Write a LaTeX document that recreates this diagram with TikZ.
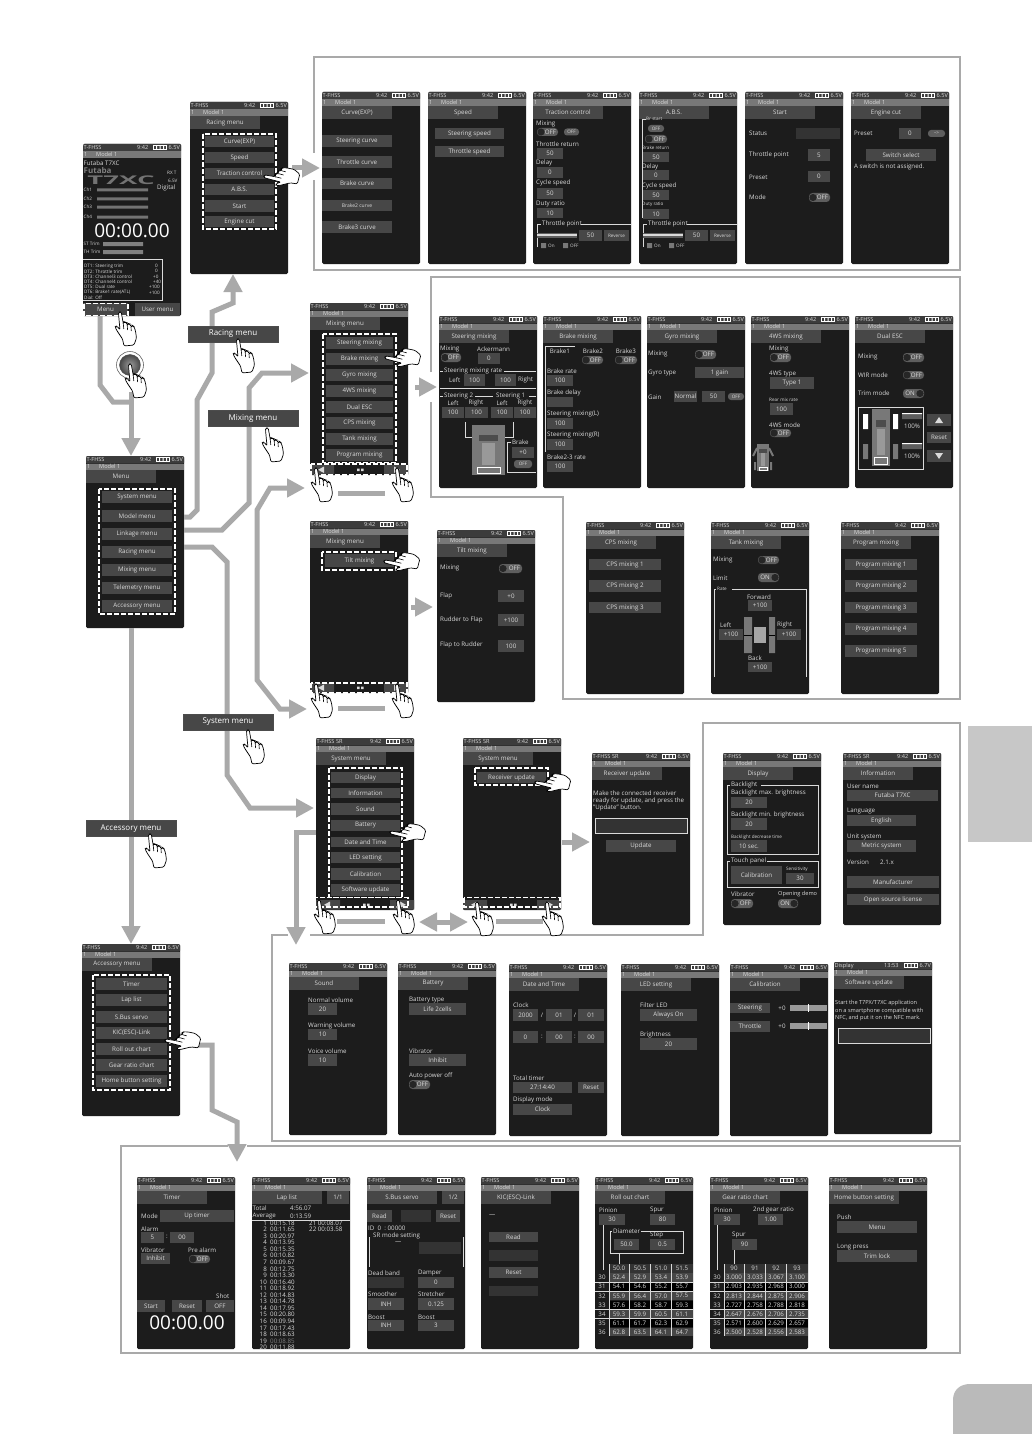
\documentclass[tikz,border=0pt]{standalone}
\usepackage{fontspec}
\setmainfont{Open Sans}
\usetikzlibrary{arrows.meta}
\definecolor{scrbg}{HTML}{1C1C1C}
\definecolor{stat}{HTML}{3C3C3C}
\definecolor{modl}{HTML}{787878}
\definecolor{btnc}{HTML}{474747}
\definecolor{dimc}{HTML}{333333}
\definecolor{txtc}{HTML}{DADADA}
\definecolor{flowc}{HTML}{A9A9A9}
\definecolor{pillc}{HTML}{5E5E5E}
\newcounter{nid}
\tikzset{
 scrbody/.style={fill=scrbg,draw=none,rounded corners=1.5pt,minimum width=98pt,minimum height=172pt,inner sep=0pt,outer sep=0pt,anchor=north west},
 txt/.style={text=txtc,inner sep=0pt,font=\fontsize{6.2}{7}\selectfont},
 smalltxt/.style={text=txtc,inner sep=0pt,font=\fontsize{4.6}{5}\selectfont},
 sttxt/.style={text=txtc,inner sep=0pt,font=\fontsize{5.6}{6}\selectfont},
 frameline/.style={draw=flowc,line width=2.5pt,line cap=butt},
 flow/.style={draw=flowc,line width=5pt,line join=miter,-{Triangle[width=18pt,length=18pt]}},
 bar/.style={draw=flowc,line width=5pt},
 dflow/.style={draw=flowc,line width=5pt,{Triangle[width=18pt,length=18pt]}-{Triangle[width=18pt,length=18pt]}},
 dash box/.style={draw=white,line width=1.5pt,dash pattern=on 5pt off 2pt},
 wl/.style={draw=txtc,line width=0.6pt},
 lab/.style={fill=btnc,draw=black!70,line width=0.4pt,text=white,minimum width=90pt,minimum height=16pt,inner sep=0pt,font=\fontsize{8}{9}\selectfont},
 handst/.style={fill=white,draw=black,line width=0.7pt,rounded corners=1.3pt},
}
\newcommand\tx[3]{\stepcounter{nid}\node[txt,anchor=west](n\arabic{nid}) at (#1,#2) {#3};}
\newcommand\tc[3]{\stepcounter{nid}\node[txt](n\arabic{nid}) at (#1,#2) {#3};}
\newcommand\ts[3]{\stepcounter{nid}\node[smalltxt,anchor=west](n\arabic{nid}) at (#1,#2) {#3};}
\newcommand\tst[3]{\stepcounter{nid}\node[sttxt,anchor=west](n\arabic{nid}) at (#1,#2) {#3};}
\newcommand\bt[5]{\stepcounter{nid}\path[fill=btnc] (#1,#2) rectangle node[txt](n\arabic{nid}){#5} (#3,#4);}
\newcommand\bd[4]{\fill[dimc] (#1,#2) rectangle (#3,#4);}
\newcommand\pill[5]{\stepcounter{nid}\path[fill=pillc,rounded corners=3pt] (#1,#2) rectangle node[smalltxt](n\arabic{nid}){#5} (#3,#4);}
\newcommand\togoff[4]{\fill[pillc,rounded corners=3.5pt] (#1,#2) rectangle (#3,#4);
 \fill[black!85] (#1+4,{(#2+#4)/2}) circle (3.6pt);
 \tc{#3-7.5}{{(#2+#4)/2}}{OFF}}
\newcommand\togon[4]{\fill[pillc,rounded corners=3.5pt] (#1,#2) rectangle (#3,#4);
 \fill[black!85] (#3-4,{(#2+#4)/2}) circle (3.6pt);
 \tc{#1+7}{{(#2+#4)/2}}{ON}}
\newcommand\batt{\fill[white] (70,1.2) rectangle (84,6.2);
 \fill[stat] (71.2,2.2) rectangle (82.8,5.2);
 \fill[white] (73,2.2) rectangle (74,5.2) (76.5,2.2) rectangle (77.5,5.2) (80,2.2) rectangle (81,5.2);}
\newcommand\scrbare[4]{\begin{scope}[shift={(#3,#4)}]
 \node[scrbody] (#2) at (0,0) {};
 \fill[stat,rounded corners=1pt] (0,0) rectangle (98,7.5);
 \fill[modl] (0,7.5) rectangle (98,14);
 \tst{0.5}{3.8}{#1}
 \tst{54}{3.8}{9:42}
 \batt
 \tst{85.5}{3.8}{6.5V}
 \tst{1}{10.8}{1}
 \tst{13}{10.8}{Model 1}
}
\newcommand\scr[5][T-FHSS]{\scrbare{#1}{#2}{#3}{#4}
 \bt{0}{14}{70}{27}{#5}}
\newcommand\escr{\end{scope}}
\newcommand\nav{\fill[btnc] (0,162) rectangle (24,171.5) (74,162) rectangle (98,171.5);
 \fill[txtc] (14,163.5) -- (14,170) -- (8,166.8) -- cycle (84,163.5) -- (84,170) -- (90,166.8) -- cycle;
 \fill[txtc] (47,165.5) rectangle (49.5,168) (51,165.5) rectangle (53.5,168);}
\newcommand\hand[3]{\begin{scope}[shift={(#1,#2)},rotate=#3]
 \path[handst] (-1.2,0) -- (1.2,0) -- (3.2,11) -- (5,10) -- (6.3,10.5) -- (7.2,13) -- (8.5,11.5) -- (10,12) -- (11,15) -- (12.5,13.5) -- (14,14.5) -- (15.5,19) -- (16.5,26) -- (14,33) -- (4,34) -- (2.5,27) -- (-3.5,18) -- (-5,14.5) -- (-3,14) -- (0,18) -- (-1.5,2) -- cycle;
 \draw[black,line width=0.6pt] (3.2,11) -- (3.8,17) (7.2,13) -- (7.6,18) (11,15) -- (11.3,19);
 \end{scope}}
\newcommand\slid[1]{\draw[wl] (4,#1) -- (4,132) -- (8,132); \tx{9}{132}{Throttle point} \draw[wl] (48,132) -- (98,132);
 \fill[pillc] (4,141) rectangle (44,146); \fill[white!85!black] (4,142) rectangle (44,143.5);
 \bt{46}{138}{69}{149}{50} \bt{71}{138}{96}{149}{\fontsize{4.6}{5}\selectfont Reverse}
 \fill[modl] (8,151) rectangle (13,156) (30,151) rectangle (35,156);
 \ts{15}{153.5}{On} \ts{37}{153.5}{OFF}}
\newcommand\car[4]{\fill[modl] (#1,#2) rectangle (#3,#4);
 \fill[black!70] ({#1+(#3-#1)*0.2},{#2+(#4-#2)*0.2}) rectangle ({#1+(#3-#1)*0.8},{#2+(#4-#2)*0.32});
 \fill[black!40] ({#1+(#3-#1)*0.3},{#2+(#4-#2)*0.35}) rectangle ({#1+(#3-#1)*0.7},{#2+(#4-#2)*0.8});
 \draw[white,line width=0.5pt] ({#1+(#3-#1)*0.15},{#2+(#4-#2)*0.85}) rectangle ({#1+(#3-#1)*0.85},{#2+(#4-#2)*0.97});}
\newcommand\trow[7]{\fill[#2] (14,#1) rectangle (97.5,#1+8.6);
 \tc{7}{#1+4.3}{#3} \tc{24}{#1+4.3}{#4} \tc{45}{#1+4.3}{#5} \tc{66}{#1+4.3}{#6} \tc{87}{#1+4.3}{#7}}
\begin{document}
\begin{tikzpicture}[x=1pt,y=-1pt]
\useasboundingbox (0,0) rectangle (1032,1434);
\fill[white] (0,0) rectangle (1032,1434);
% page tabs
\fill[black!22] (968,726) rectangle (1032,842);
\fill[black!27] (1032,1434) -- (953,1434) -- (953,1400) .. controls (953,1390) and (960,1384) .. (970,1384) -- (1032,1384) -- cycle;
% frames
\draw[frameline] (314,153) -- (314,57) -- (960,57) -- (960,270) -- (314,270) -- (314,180);
\draw[frameline] (431,372) -- (431,277) -- (960,277) -- (960,699) -- (563,699) -- (563,497) -- (431,497) -- (431,402);
\draw[frameline] (288,935) -- (272,935) -- (272,1141) -- (960,1141) -- (960,723) -- (703,723) -- (703,935) -- (310,935);
\draw[frameline] (228,1146) -- (121,1146) -- (121,1353) -- (960,1353) -- (960,1146) -- (247,1146);
% screens
\scrbare{T-FHSS}{home}{83}{144}
 \tx{0.5}{19}{Futaba T7XC}
 \stepcounter{nid}\node[text=black!50,inner sep=0pt,anchor=west,font=\bfseries\fontsize{8}{9}\selectfont](n\arabic{nid}) at (0.5,27) {Futaba};
 \stepcounter{nid}\node[text=black!55,inner sep=0pt,font=\bfseries\fontsize{12}{13}\selectfont,xscale=2.3](n\arabic{nid}) at (38,36) {T7XC};
 \ts{84}{29}{RX T} \ts{85}{37}{6.5V} \tx{74}{44}{Digital}
 \ts{0.5}{46}{Ch1} \ts{0.5}{55}{Ch2} \ts{0.5}{63}{Ch3} \ts{0.5}{73}{Ch4}
 \fill[black!55] (14,44.5) rectangle (65,47.5) (14,53.5) rectangle (65,56.5) (14,61.5) rectangle (65,64.5) (14,71.5) rectangle (65,74.5);
 \stepcounter{nid}\node[text=white,inner sep=0pt,font=\fontsize{19}{20}\selectfont](n\arabic{nid}) at (49,87) {00:00.00};
 \ts{0.5}{100}{ST Trim} \ts{0.5}{108}{TH Trim}
 \fill[black!50] (20,98) rectangle (60,102) (20,106) rectangle (60,110);
 \draw[wl] (0,115) -- (79,115) -- (79,156.5) -- (0,156.5);
 \ts{1}{122}{DT1: Steering trim} \ts{1}{127.3}{DT2: Throttle trim} \ts{1}{132.6}{DT3: Channel3 control} \ts{1}{137.9}{DT4: Channel4 control} \ts{1}{143.2}{DT5: Dual rate} \ts{1}{148.5}{DT6: Brake1 rate(ATL)} \ts{1}{153.5}{Dial: Off}
 \ts{72}{122}{0} \ts{72}{127.3}{0} \ts{70}{132.6}{+0} \ts{70}{137.9}{+40} \ts{66}{143.2}{+100} \ts{66}{148.5}{+100}
 \bt{0}{159}{45}{172}{Menu} \bt{52}{159}{97}{172}{User menu}
 \draw[dash box] (1,159.5) rectangle (45,171.5);
\escr
\scr{racing}{190}{102}{Racing menu}
 \bt{15}{34}{84}{45}{Curve(EXP)} \bt{15}{50}{84}{61}{Speed} \bt{15}{66}{84}{77}{Traction control} \bt{15}{82}{84}{93}{A.B.S.} \bt{15}{98}{84}{110}{Start} \bt{15}{114}{84}{125}{Engine cut}
 \draw[dash box] (13,32) rectangle (86,127);
\escr
\scr{curve}{322}{92}{Curve(EXP)}
 \bt{0}{43}{70}{55}{Steering curve} \bt{0}{64}{70}{76}{Throttle curve} \bt{0}{86}{70}{97}{Brake curve} \bt{0}{108}{70}{119}{\fontsize{5}{6}\selectfont Brake2 curve} \bt{0}{129}{70}{141}{Brake3 curve}
\escr
\scr{speed}{428}{92}{Speed}
 \bt{7}{36}{76}{47}{Steering speed} \bt{7}{54}{76}{65}{Throttle speed}
\escr
\scr{traction}{533}{92}{Traction control}
 \tx{3}{32}{Mixing} \togoff{4}{36}{25}{44} \pill{31}{36.5}{46}{43.5}{OFF}
 \tx{3}{52}{Throttle return} \bt{4}{56}{30}{67}{50}
 \tx{3}{71}{Delay} \bt{4}{75}{30}{86}{0}
 \tx{3}{91}{Cycle speed} \bt{4}{96}{30}{107}{50}
 \tx{3}{112}{Duty ratio} \bt{4}{116}{30}{126}{10}
 \slid{155}
\escr
\scr{abs}{639}{92}{A.B.S.}
 \draw[wl] (7,27) -- (3,27) -- (3,126); \ts{7}{27}{Br start}
 \pill{9}{33}{25}{40}{OFF} \togoff{6}{43}{28}{51}
 \ts{3}{56}{Brake return} \bt{4}{60}{30}{70}{50}
 \tx{3}{75}{Delay} \bt{4}{78}{30}{88}{0}
 \tx{3}{94}{Cycle speed} \bt{4}{98}{30}{108}{50}
 \ts{3}{112}{Duty ratio} \bt{4}{117}{30}{127}{10}
 \slid{155}
\escr
\scr{start}{745}{92}{Start}
 \tx{4}{41}{Status} \bd{51}{36}{95}{47}
 \tx{4}{63}{Throttle point} \bt{63}{57}{85}{69}{5}
 \tx{4}{85}{Preset} \bt{63}{79}{85}{90}{0}
 \tx{4}{105}{Mode} \togoff{64}{101}{85}{110}
\escr
\scr{engine}{851}{92}{Engine cut}
 \tx{3}{41}{Preset} \bt{48}{36}{70}{47}{0} \pill{77}{38}{94}{45}{-->}
 \bt{15}{57}{85}{69}{Switch select}
 \tx{3}{75}{A switch is not assigned.}
\escr
% mixing menu
\scr{mixing}{310}{303}{Mixing menu}
 \bt{16}{34}{83}{46}{Steering mixing} \bt{16}{50}{83}{62}{Brake mixing} \bt{16}{66}{83}{78}{Gyro mixing} \bt{16}{82}{83}{94}{4WS mixing} \bt{16}{98}{83}{110}{Dual ESC} \bt{16}{114}{83}{126}{CPS mixing} \bt{16}{130}{83}{142}{Tank mixing} \bt{16}{146}{83}{158}{Program mixing}
 \draw[dash box] (13,31) rectangle (86,159.5);
 \nav
 \draw[dash box] (1,161) rectangle (97,172);
\escr
\scr{steering}{439}{316}{Steering mixing}
 \tx{1}{33}{Mixing} \togoff{2}{37}{22}{46} \tx{38}{33}{Ackermann} \bt{39}{37}{61}{48}{0}
 \draw[wl] (1,55) -- (4,55) (65,55) -- (97,55); \tx{5}{55}{Steering mixing rate}
 \tx{10}{64}{Left} \bt{25}{58}{46}{70}{100} \bt{56}{58}{77}{70}{100} \tx{79}{64}{Right}
 \draw[wl] (1,72) -- (97,72);
 \draw[wl] (1,80) -- (4,80) (36,80) -- (54,80) (90,80) -- (97,80); \tx{5}{80}{Steering 2} \tx{57}{80}{Steering 1}
 \tc{14}{87}{Left} \tc{37}{87}{Right} \tc{63}{87}{Left} \tc{86}{87}{Right}
 \bt{3}{91}{25}{102}{100} \bt{26}{91}{49}{102}{100} \bt{52}{91}{74}{102}{100} \bt{75}{91}{97}{102}{100}
 \car{33}{109}{66}{159}
 \draw[wl] (26,106) -- (26,121) -- (33,121) (74,106) -- (74,121) -- (66,121);
 \draw[wl] (72,126) -- (68,126) -- (68,156) -- (97,156); \tx{73}{126}{Brake} \bt{73}{131}{95}{142}{+0} \pill{75}{144}{93}{152}{OFF}
\escr
\scr{brakemix}{543}{316}{Brake mixing}
 \draw[wl] (32,30) -- (2,30) -- (2,136);
 \tc{17}{35}{Brake1} \tc{50}{35}{Brake2} \tc{83}{35}{Brake3} \togoff{39}{40}{60}{48} \togoff{72}{40}{94}{48}
 \tx{4}{55}{Brake rate} \bt{4}{59}{30}{70}{100}
 \tx{4}{77}{Brake delay} \bt{4}{81}{30}{91}{}
 \tx{4}{98}{Steering mixing(L)} \bt{4}{102}{30}{113}{100}
 \tx{4}{119}{Steering mixing(R)} \bt{4}{123}{30}{134}{100}
 \tx{4}{141}{Brake2-3 rate} \bt{4}{145}{30}{156}{100}
\escr
\scr{gyro}{647}{316}{Gyro mixing}
 \tx{1}{38}{Mixing} \togoff{48}{34}{69}{43}
 \tx{1}{57}{Gyro type} \bt{48}{51}{97}{62}{1 gain}
 \tx{1}{81}{Gain} \bt{27}{75}{50}{86}{Normal} \bt{55}{75}{78}{86}{50} \pill{81}{77}{97}{84}{OFF}
\escr
\scr{fourws}{751}{316}{4WS mixing}
 \tx{18}{33}{Mixing} \togoff{19}{37}{40}{46}
 \tx{18}{58}{4WS type} \bt{19}{61}{63}{73}{Type 1}
 \ts{18}{84}{Rear mix rate} \bt{19}{87}{42}{99}{100}
 \tx{18}{109}{4WS mode} \togoff{19}{113}{40}{121}
 \car{6}{128}{18}{155}
 \draw[modl,line width=2pt] (2,140) -- (6,132) (18,132) -- (22,140) (4,146) -- (4,154) (20,146) -- (20,154);
\escr
\scr{dualesc}{855}{316}{Dual ESC}
 \tx{3}{41}{Mixing} \togoff{48}{37}{69}{46}
 \tx{3}{59}{WIR mode} \togoff{48}{55}{69}{63}
 \tx{3}{77}{Trim mode} \togon{48}{73}{69}{82}
 \draw[wl] (3,91) rectangle (68,153);
 \fill[white] (8,98) rectangle (13,113) (38,98) rectangle (43,113);
 \fill[modl] (8,128) rectangle (13,143) (38,128) rectangle (43,143);
 \car{17}{93}{35}{150}
 \fill[pillc] (47,98) rectangle (67,103) (47,128) rectangle (67,133);
 \fill[white] (47,97) rectangle (67,98) (47,127) rectangle (67,128);
 \tx{49}{110}{100\%} \tx{49}{140}{100\%}
 \bt{72}{98}{96}{110}{} \fill[txtc] (84,101) -- (80,107) -- (88,107) -- cycle;
 \bt{72}{116}{96}{127}{Reset}
 \bt{72}{134}{96}{146}{} \fill[txtc] (84,143) -- (80,137) -- (88,137) -- cycle;
\escr
\scr{cps}{586}{522}{CPS mixing}
 \bt{3}{37}{75}{48}{CPS mixing 1} \bt{3}{58}{75}{70}{CPS mixing 2} \bt{3}{80}{75}{91}{CPS mixing 3}
\escr
\scr{tank}{711}{522}{Tank mixing}
 \tx{2}{38}{Mixing} \togoff{47}{34}{68}{42}
 \tx{2}{56}{Limit} \togon{47}{51}{68}{60}
 \draw[wl] (3,155) -- (3,67) -- (5,67) (21,67) -- (95,67) -- (95,155); \ts{6}{67}{Rate}
 \tc{48}{75}{Forward} \bt{37}{78}{61}{89}{+100}
 \tx{9}{103}{Left} \bt{8}{107}{32}{118}{+100}
 \tx{66}{103}{Right} \bt{66}{107}{90}{118}{+100}
 \tc{44}{136}{Back} \bt{37}{140}{61}{150}{+100}
 \fill[modl] (33,95) rectangle (41,131) (58,95) rectangle (64,131);
 \draw[black,line width=0.6pt] (33,113) -- (41,113) (58,113) -- (64,113);
 \fill[black!35] (43,105) rectangle (55,121);
\escr
\scr{program}{841}{522}{Program mixing}
 \bt{4}{37}{76}{48}{Program mixing 1} \bt{4}{58}{76}{70}{Program mixing 2} \bt{4}{80}{76}{91}{Program mixing 3} \bt{4}{101}{76}{113}{Program mixing 4} \bt{4}{123}{76}{135}{Program mixing 5}
\escr
\scr{menu}{86}{456}{Menu}
 \bt{16}{35}{86}{47}{System menu} \bt{16}{54}{86}{66}{Model menu} \bt{16}{72}{86}{84}{Linkage menu} \bt{16}{90}{86}{102}{Racing menu} \bt{16}{108}{86}{120}{Mixing menu} \bt{16}{126}{86}{138}{Telemetry menu} \bt{16}{144}{86}{156}{Accessory menu}
 \draw[dash box] (13,33) rectangle (89,158);
\escr
\scr{tilt}{310}{521}{Mixing menu}
 \bt{15}{33}{84}{46}{Tilt mixing}
 \draw[dash box] (12,31) rectangle (86,49);
 \nav
 \draw[dash box] (1,162) rectangle (97,172);
\escr
\scr{tiltmix}{437}{530}{Tilt mixing}
 \tx{3}{38}{Mixing} \togoff{62}{34}{85}{43}
 \tx{3}{66}{Flap} \bt{61}{60}{87}{72}{+0}
 \tx{3}{90}{Rudder to Flap} \bt{61}{84}{87}{96}{+100}
 \tx{3}{115}{Flap to Rudder} \bt{61}{110}{87}{122}{100}
\escr
\scr[T-FHSS SR]{sysA}{316}{738}{System menu}
 \bt{15}{34}{84}{45}{Display} \bt{15}{50}{84}{60}{Information} \bt{15}{65}{84}{77}{Sound} \bt{15}{82}{84}{93}{Battery} \bt{15}{99}{84}{109}{Date and Time} \bt{15}{114}{84}{125}{LED setting} \bt{15}{130}{84}{142}{Calibration} \bt{15}{146}{84}{158}{Software update}
 \draw[dash box] (13,30) rectangle (86,159.5);
 \nav
 \draw[dash box] (-3,159.5) -- (92,159.5) -- (92,169) -- (-3,169) -- cycle;
\escr
\scr[T-FHSS SR]{sysB}{463}{738}{System menu}
 \bt{14}{34}{83}{45}{Receiver update}
 \draw[dash box] (12,30) rectangle (85,47);
 \nav
 \draw[dash box] (1,159.5) rectangle (97,169);
\escr
\scr[T-FHSS SR]{recv}{592}{753}{Receiver update}
 \tx{1}{40}{Make the connected receiver}
 \tx{1}{48}{ready for update, and press the}
 \tx{1}{55}{"Update" button.}
 \path[fill=dimc,draw=txtc,line width=0.5pt] (3,65) rectangle (95,80);
 \bt{14}{87}{84}{99}{Update}
\escr
\scr{display}{723}{753}{Display}
 \draw[wl] (4,32) -- (4,101) -- (95,101) -- (95,32) -- (38,32) (4,32) -- (7,32); \tx{8}{32}{Backlight}
 \tx{8}{40}{Backlight max. brightness} \bt{8}{44}{44}{55}{20}
 \tx{8}{62}{Backlight min. brightness} \bt{8}{65}{44}{77}{20}
 \ts{8}{84}{Backlight decrease time} \bt{8}{87}{44}{99}{10 sec.}
 \draw[wl] (4,108) -- (4,134) -- (95,134) -- (95,108) -- (44,108) (4,108) -- (7,108); \tx{8}{108}{Touch panel}
 \bt{8}{113}{59}{131}{Calibration} \ts{63}{116}{Sensitivity} \bt{63}{120}{91}{131}{30}
 \tx{8}{141}{Vibrator} \togoff{8}{146}{30}{155}
 \tst{55}{141}{Opening demo} \togon{55}{146}{75}{155}
\escr
\scr[T-FHSS SR]{info}{843}{753}{Information}
 \tx{4}{33}{User name} \bt{4}{37}{95}{48}{Futaba T7XC}
 \tx{4}{58}{Language} \bt{4}{62}{73}{73}{English}
 \tx{4}{84}{Unit system} \bt{4}{87}{73}{99}{Metric system}
 \tx{4}{109}{Version} \tx{37}{109}{2.1.x}
 \bt{4}{123}{96}{135}{Manufacturer} \bt{4}{141}{96}{152}{Open source license}
\escr
\scr{sound}{289}{963}{Sound}
 \tx{19}{37}{Normal volume} \bt{19}{40}{48}{52}{20}
 \tx{19}{63}{Warning volume} \bt{19}{66}{48}{77}{10}
 \tx{19}{88}{Voice volume} \bt{19}{91}{48}{103}{10}
\escr
\scr{battery}{398}{963}{Battery}
 \tx{11}{37}{Battery type} \bt{11}{40}{68}{52}{Life 2cells}
 \tx{11}{88}{Vibrator} \bt{11}{91}{68}{103}{Inhibit}
 \tx{11}{113}{Auto power off} \togoff{11}{117}{32}{126}
\escr
\scr{datetime}{509}{964}{Date and Time}
 \tx{4}{41}{Clock} \bt{4}{45}{29}{57}{2000} \tc{33}{51}{/} \bt{37}{45}{63}{57}{01} \tc{66}{51}{/} \bt{69}{45}{95}{57}{01}
 \bt{4}{67}{29}{79}{0} \tc{33}{73}{:} \bt{37}{67}{63}{79}{00} \tc{66}{73}{:} \bt{69}{67}{95}{79}{00}
 \tx{4}{114}{Total timer} \bt{4}{118}{63}{129}{27:14:40} \bt{69}{118}{95}{129}{Reset}
 \tx{4}{136}{Display mode} \bt{4}{140}{63}{151}{Clock}
\escr
\scr{led}{621}{964}{LED setting}
 \tx{19}{41}{Filter LED} \bt{19}{45}{76}{57}{Always On}
 \tx{19}{71}{Brightness} \bt{19}{74}{76}{86}{20}
\escr
\scr{calib}{730}{964}{Calibration}
 \bt{0}{39}{40}{49}{Steering} \tc{52}{44}{+0} \fill[black!40] (60,41) rectangle (97,47); \fill[white] (78,40) rectangle (79,48);
 \bt{0}{57}{40}{68}{Throttle} \tc{52}{62}{+0} \fill[black!40] (60,59) rectangle (97,65); \fill[white] (78,58) rectangle (79,66);
\escr
\begin{scope}[shift={(834,962)}]
 \node[scrbody] (softw) at (0,0) {};
 \fill[stat,rounded corners=1pt] (0,0) rectangle (98,7.5);
 \fill[modl] (0,7.5) rectangle (98,14);
 \tst{0.5}{3.8}{Display} \tst{50}{3.8}{13:53}
 \batt
 \tst{85.5}{3.8}{6.7V} \tst{1}{10.8}{1} \tst{13}{10.8}{Model 1}
 \bt{0}{14}{70}{27}{Software update}
 \tst{1}{41}{Start the T7PX/T7XC application}
 \tst{1}{49}{on a smartphone compatible with}
 \tst{1}{56}{NFC, and put it on the NFC mark.}
 \path[fill=dimc,draw=txtc,line width=0.5pt] (4,66) rectangle (96,81);
\end{scope}
\scr{access}{82}{944}{Accessory menu}
 \bt{14}{34}{85}{46}{Timer} \bt{14}{50}{85}{62}{Lap list} \bt{14}{67}{85}{79}{S.Bus servo} \bt{14}{83}{85}{95}{KIC(ESC)-Link} \bt{14}{99}{85}{111}{Roll out chart} \bt{14}{115}{85}{127}{Gear ratio chart} \bt{14}{131}{85}{143}{Home button setting}
 \draw[dash box] (11,31) rectangle (88,146);
\escr
\scr{timer}{137}{1177}{Timer}
 \tx{4}{39}{Mode} \bt{23}{33}{97}{45}{Up timer}
 \tx{4}{52}{Alarm} \bt{4}{55}{27}{66}{5} \tc{30}{60}{:} \bt{33}{55}{57}{66}{00}
 \tx{4}{73}{Vibrator} \bt{4}{76}{33}{87}{Inhibit}
 \tx{51}{73}{Pre alarm} \togoff{52}{78}{73}{86}
 \tx{79}{119}{Shot}
 \bt{0}{123}{28}{135}{Start} \bt{35}{123}{65}{135}{Reset} \bt{69}{123}{97}{135}{OFF}
 \stepcounter{nid}\node[text=white,inner sep=0pt,font=\fontsize{19}{20}\selectfont](n\arabic{nid}) at (50,146) {00:00.00};
\escr
\scr{lap}{252}{1177}{Lap list}
 \bt{75}{14}{97}{27}{1/1}
 \tx{0.5}{31}{Total} \tx{38}{31}{4:56.07} \tx{0.5}{39}{Average} \tx{38}{39}{0:13.59}
 \draw[txtc,line width=0.7pt] (0,43) -- (98,43);
 \begin{scope}
 \clip (0,40) rectangle (98,172);
 \foreach \nn/\lptime [count=\ii] in {1/00:15.18,2/00:11.65,3/00:20.97,4/00:13.95,5/00:15.35,6/00:10.82,7/00:09.67,8/00:12.75,9/00:13.30,10/00:16.40,11/00:18.92,12/00:14.83,13/00:14.78,14/00:17.95,15/00:20.80,16/00:09.94,17/00:17.43,18/00:18.63,19/00:08.85,20/00:11.88}{
  \pgfmathsetmacro\yy{46+(\ii-1)*6.55}
  \stepcounter{nid}\node[txt,anchor=east](n\arabic{nid}) at (15,\yy) {\nn};
  \stepcounter{nid}\node[txt,anchor=west](n\arabic{nid}) at (18,\yy) {\ifnum\ii=19 \textcolor{black!50}{\lptime}\else\lptime\fi};
  }
 \end{scope}
 \foreach \nn/\lptime [count=\ii] in {21/00:08.07,22/00:03.58}{
  \pgfmathsetmacro\yy{46+(\ii-1)*6.55}
  \stepcounter{nid}\node[txt,anchor=west](n\arabic{nid}) at (57,\yy) {\nn\ \lptime};
  }
\escr
\scr{sbus}{367}{1177}{S.Bus servo}
 \bt{75}{14}{97}{27}{1/2}
 \bt{0}{33}{25}{45}{Read} \bd{34}{33}{64}{45} \bt{69}{33}{93}{45}{Reset}
 \tx{1}{51}{ID\ \ 0\ \ :\ 00000}
 \draw[wl] (2,60) -- (2,90) (96,60) -- (96,90); \tx{6}{59}{SR mode setting}
 \tx{28}{66}{---} \bd{52}{65}{94}{77}
 \tx{1}{96}{Dead band} \tx{51}{96}{Damper} \bd{1}{100}{37}{111} \bt{51}{100}{87}{111}{0}
 \tx{1}{117}{Smoother} \tx{51}{117}{Stretcher} \bt{1}{121}{37}{133}{INH} \bt{51}{121}{87}{133}{0.125}
 \tx{1}{140}{Boost} \tx{51}{140}{Boost} \bt{1}{143}{37}{154}{INH} \bt{51}{143}{87}{154}{3}
\escr
\scr{kic}{481}{1177}{KIC(ESC)-Link}
 \tx{8}{39}{---}
 \bt{8}{55}{57}{65}{Read} \bd{8}{73}{57}{84} \bt{8}{90}{57}{101}{Reset} \bd{8}{109}{57}{119}
\escr
\scr{rollout}{595}{1177}{Roll out chart}
 \tx{4}{33}{Pinion} \bt{4}{37}{30}{48}{30}
 \tx{55}{33}{Spur} \bt{55}{37}{80}{48}{80}
 \draw[wl] (8,48) -- (8,93) (24,76) -- (24,87);
 \draw[wl] (17,54) -- (15,54) -- (15,76) -- (88,76) -- (88,54) -- (46,54); \tx{18}{54}{Diameter}
 \tx{55}{58}{Step} \bt{19}{62}{44}{73}{50.0} \bt{55}{62}{80}{73}{0.5}
 \trow{87}{dimc}{}{50.0}{50.5}{51.0}{51.5}
 \trow{96}{btnc}{30}{52.4}{52.9}{53.4}{53.9}
 \trow{105}{black}{31}{54.1}{54.6}{55.2}{55.7}
 \trow{114.5}{btnc}{32}{55.9}{56.4}{57.0}{57.5}
 \trow{123.5}{black}{33}{57.6}{58.2}{58.7}{59.3}
 \trow{132.5}{btnc}{34}{59.3}{59.9}{60.5}{61.1}
 \trow{141.5}{black}{35}{61.1}{61.7}{62.3}{62.9}
 \trow{150.5}{btnc}{36}{62.8}{63.5}{64.1}{64.7}
 \draw[wl,line width=0.4pt] (0,105) -- (98,105) (0,114.5) -- (98,114.5) (0,132.5) -- (98,132.5) (0,141.5) -- (98,141.5) (34.5,87) -- (34.5,159) (55.5,87) -- (55.5,159) (76.5,87) -- (76.5,159) (14,87) -- (14,159);
\escr
\scr{gear}{710}{1177}{Gear ratio chart}
 \tx{4}{33}{Pinion} \bt{4}{37}{30}{48}{30}
 \tx{43}{33}{2nd gear ratio} \bt{48}{37}{73}{48}{1.00}
 \tx{22}{58}{Spur} \bt{22}{62}{47}{73}{90}
 \draw[wl] (7,48) -- (7,93) (24,73) -- (24,87);
 \trow{87}{dimc}{}{90}{91}{92}{93}
 \trow{96}{btnc}{30}{3.000}{3.033}{3.067}{3.100}
 \trow{105}{black}{31}{2.903}{2.935}{2.968}{3.000}
 \trow{114.5}{btnc}{32}{2.813}{2.844}{2.875}{2.906}
 \trow{123.5}{black}{33}{2.727}{2.758}{2.788}{2.818}
 \trow{132.5}{btnc}{34}{2.647}{2.676}{2.706}{2.735}
 \trow{141.5}{black}{35}{2.571}{2.600}{2.629}{2.657}
 \trow{150.5}{btnc}{36}{2.500}{2.528}{2.556}{2.583}
 \draw[wl,line width=0.4pt] (0,105) -- (98,105) (0,114.5) -- (98,114.5) (0,132.5) -- (98,132.5) (0,141.5) -- (98,141.5) (34.5,87) -- (34.5,159) (55.5,87) -- (55.5,159) (76.5,87) -- (76.5,159) (14,87) -- (14,159);
\escr
\scr{homeset}{829}{1177}{Home button setting}
 \tx{8}{40}{Push} \bt{8}{44}{88}{56}{Menu}
 \tx{8}{70}{Long press} \bt{8}{73}{88}{85}{Trim lock}
\escr
% named free ends
\coordinate (lRacing) at (233,334);
\coordinate (lMixing) at (253,418.5);
\coordinate (lSystem) at (228,722);
\coordinate (lAccess) at (131,828.5);
\coordinate (hA) at (100,385);
\coordinate (dl) at (419,922);
\coordinate (dr) at (468,922);
\coordinate (mA) at (338,493); \coordinate (mB) at (385,493);
\coordinate (tA) at (338,708); \coordinate (tB) at (385,708);
\coordinate (sA) at (337,921); \coordinate (sB) at (385,921);
\coordinate (sC) at (496,921); \coordinate (sD) at (543,921);
\coordinate (batteryout) at (316,832);
\coordinate (buttonbelow) at (131,392);
\coordinate (upd) at (562,842);
% connectors
\draw[bar,line join=miter] (100,0 |- home.south) -- (hA) -- (113,402) -- (131,402);
\draw[flow] (buttonbelow) -- (131,0 |- menu.north);
\draw[flow] (menu.east |- 0,517) -- (190,517) -- (197,510) -- (197,400) -- (212,373) -- (212,312) -- (233,303) -- (233,0 |- racing.south);
\draw[flow] (menu.east |- 0,530) -- (222,530) -- (249,503) -- (249,388) -- (262,373) -- ([xshift=-1pt]mixing.west |- 0,373);
\draw[flow] (menu.east |- 0,547) -- (212,547) -- (227,562) -- (227,775) -- (250,808) -- ([xshift=-2pt]sysA.west |- 0,808);
\draw[dflow] ([xshift=-5pt]mixing.west |- 0,488) -- (270,488) -- (257,510) -- (257,680) -- (280,709) -- ([xshift=-3pt]tilt.west |- 0,709);
\draw[flow] (batteryout) -- (296,832) -- (296,945);
\draw[flow] (292,168) -- ([xshift=-2pt]curve.west |- 0,168);
\draw[flow] (415,387) -- (437,387);
\draw[flow] (411,607) -- (433,607);
\draw[flow] (upd) -- (590,842);
\draw[bar] (mA) -- (mB); \draw[bar] (tA) -- (tB); \draw[bar] (sA) -- (sB); \draw[bar] (sC) -- (sD);
\draw[dflow] (dl) -- (dr);
\draw[flow] (131,0 |- menu.south) -- (131,0 |- access.north);
\draw[flow] (access.east |- 0,1045) -- (212,1045) -- (212,1110) -- (237,1122) -- (237,1162);
% labels above lines
\node[lab] (lbRacing) at (lRacing) {Racing menu};
\node[lab] (lbMixing) at (lMixing) {Mixing menu};
\node[lab] (lbSystem) at (lSystem) {System menu};
\node[lab] (lbAccess) at (lAccess) {Accessory menu};
% home button
\node[circle,fill=white,draw=black!60,line width=0.6pt,minimum size=27pt,inner sep=0pt] (hb) at (130,365) {};
\node[circle,inner color=black!40,outer color=black!72,draw=black!70,minimum size=21pt,inner sep=0pt] (hbi) at (130,365) {};
% hands
\hand{120}{312}{0}
\hand{130}{364}{0}
\hand{264}{176}{70}
\hand{238}{339}{0}
\hand{267}{428}{0}
\hand{248}{730}{0}
\hand{150}{834}{0}
\hand{385}{357}{70}
\hand{316}{468}{0}
\hand{397}{468}{0}
\hand{384}{561}{70}
\hand{316}{684}{0}
\hand{397}{684}{0}
\hand{390}{832}{70}
\hand{319}{900}{0}
\hand{398}{900}{0}
\hand{535}{782}{70}
\hand{477}{902}{0}
\hand{547}{902}{0}
\hand{165}{1040}{70}
\end{tikzpicture}
\end{document}
